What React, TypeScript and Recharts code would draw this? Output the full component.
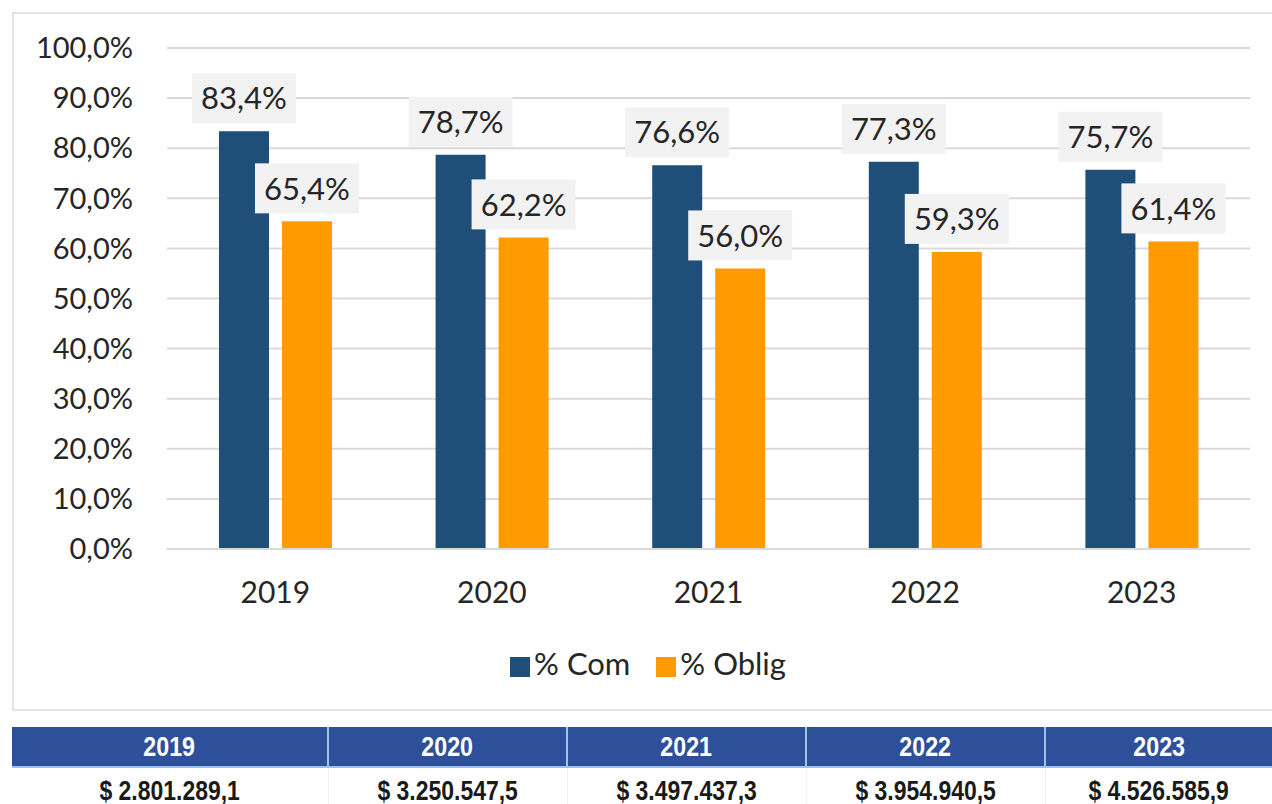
import React from 'react';
import { BarChart, Bar, XAxis, YAxis, CartesianGrid, Legend, LabelList } from 'recharts';

const years = ['2019', '2020', '2021', '2022', '2023'];
const pctCom = [83.4, 78.7, 76.6, 77.3, 75.7];
const pctOblig = [65.4, 62.2, 56.0, 59.3, 61.4];
const yTicks = [0, 10, 20, 30, 40, 50, 60, 70, 80, 90, 100];
const amounts = ['$ 2.801.289,1', '$ 3.250.547,5', '$ 3.497.437,3', '$ 3.954.940,5', '$ 4.526.585,9'];

const data = years.map((y, i) => ({ year: y, com: pctCom[i], oblig: pctOblig[i] }));

const FONT = "Lato, 'Open Sans', sans-serif";
const NAVY = '#1F4E79';
const ORANGE = '#FF9A00';

const fmt = (v: number) => `${v.toFixed(1).replace('.', ',')}%`;

const renderLabel = (props: any) => {
  const { x, y, width, value } = props;
  const cx = Number(x) + Number(width) / 2;
  const by = Number(y);
  const w = 104;
  const h = 50;
  return (
    <g>
      <rect x={cx - w / 2} y={by - 8 - h} width={w} height={h} fill="#F2F2F2" />
      <text x={cx} y={by - 8 - h / 2} dy="0.36em" textAnchor="middle" fontFamily={FONT} fontSize={31} fill="#262626">
        {fmt(Number(value))}
      </text>
    </g>
  );
};

const colWidths = [316, 239, 239, 239, 227];

const cellFont = { fontFamily: "'Liberation Sans', Arial, sans-serif", fontWeight: 'bold' as const, lineHeight: 1 };

const narrow = (s: string, scale: number) => (
  <span style={{ display: 'inline-block', transform: `scaleX(${scale})`, whiteSpace: 'nowrap', lineHeight: 1 }}>{s}</span>
);

export default function App() {
  return (
    <div style={{ position: 'absolute', left: 0, top: 0, width: 1272, height: 804, background: '#fff', overflow: 'hidden' }}>
      <div style={{ position: 'absolute', left: 12, top: 12, width: 1270, height: 699, border: '2px solid #E3E3E3', boxSizing: 'border-box' }} />
      <div style={{ position: 'absolute', left: 0, top: 0 }}>
        <BarChart width={1272} height={712} data={data} margin={{ top: 48, right: 22, left: 0, bottom: 65 }} barGap={13} barCategoryGap="24%">
          <CartesianGrid vertical={false} stroke="#D9D9D9" strokeWidth={2} />
          <XAxis dataKey="year" height={60} tickSize={0} tickMargin={33} axisLine={{ stroke: '#D9D9D9', strokeWidth: 2 }} tickLine={false}
            tick={{ fontFamily: FONT, fontSize: 30, fill: '#262626' }} />
          <YAxis width={167} domain={[0, 100]} ticks={yTicks} interval={0} tickFormatter={fmt} axisLine={false} tickLine={false} tickSize={0} tickMargin={34}
            tick={{ fontFamily: FONT, fontSize: 29, fill: '#262626' }} />
          <Legend verticalAlign="bottom" iconType="square" iconSize={20}
            wrapperStyle={{ top: 644, left: 36, fontFamily: FONT, fontSize: 31 }}
            formatter={(v: any) => <span style={{ color: '#262626', fontFamily: FONT, fontSize: 31, marginRight: 16 }}>{v}</span>} />
          <Bar dataKey="com" name="% Com" fill={NAVY} barSize={50} isAnimationActive={false}>
            <LabelList dataKey="com" content={renderLabel} />
          </Bar>
          <Bar dataKey="oblig" name="% Oblig" fill={ORANGE} barSize={50} isAnimationActive={false}>
            <LabelList dataKey="oblig" content={renderLabel} />
          </Bar>
        </BarChart>
      </div>
      <table style={{ position: 'absolute', left: 12, top: 727, borderCollapse: 'collapse', tableLayout: 'fixed', width: 1260 }}>
        <colgroup>
          {colWidths.map((w, i) => <col key={i} style={{ width: w }} />)}
        </colgroup>
        <tbody>
          <tr style={{ height: 40, background: '#2E509A' }}>
            {years.map((y, i) => (
              <td key={y} style={{ ...cellFont, fontSize: 28, color: '#fff', textAlign: 'center', padding: 0, borderLeft: i > 0 ? '2px solid #9DC3E6' : 'none', borderBottom: '2px solid #9DC3E6' }}>{narrow(y, 0.83)}</td>
            ))}
          </tr>
          <tr style={{ height: 44 }}>
            {amounts.map((a, i) => (
              <td key={i} style={{ ...cellFont, fontSize: 28, color: '#1a1a1a', textAlign: 'center', verticalAlign: 'middle', padding: '2px 0 0 0', borderLeft: i > 0 ? '1px solid #F0F0F0' : 'none' }}>{narrow(a, 0.82)}</td>
            ))}
          </tr>
        </tbody>
      </table>
    </div>
  );
}
